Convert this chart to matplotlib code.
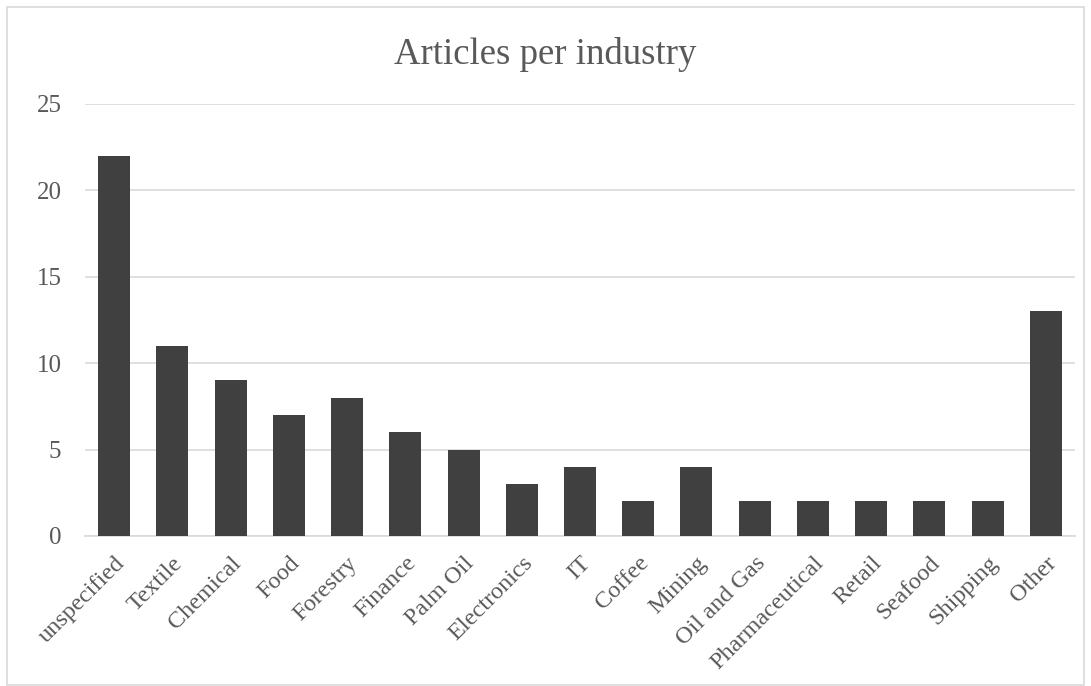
import matplotlib
matplotlib.use("Agg")
from matplotlib import pyplot as plt
from matplotlib.patches import Rectangle
from matplotlib.transforms import ScaledTranslation

industries = ["unspecified", "Textile", "Chemical", "Food", "Forestry", "Finance",
              "Palm Oil", "Electronics", "IT", "Coffee", "Mining", "Oil and Gas",
              "Pharmaceutical", "Retail", "Seafood", "Shipping", "Other"]
articles = [22, 11, 9, 7, 8, 6, 5, 3, 4, 2, 4, 2, 2, 2, 2, 2, 13]
yticks = [0, 5, 10, 15, 20, 25]

plt.rcParams['font.family'] = ['Liberation Serif', 'DejaVu Serif']
text_col = '#595959'

fig = plt.figure(figsize=(10.91, 6.86), dpi=100)
ax = fig.add_axes([85 / 1091, 1 - 536 / 686, 990 / 1091, 432 / 686])

x = range(len(industries))
ax.bar(x, articles, width=0.55, color='#404040', zorder=3)

ax.set_xlim(-0.5, len(industries) - 0.5)
ax.set_ylim(0, 25)
ax.set_yticks(yticks)
ax.yaxis.grid(True, color='#d9d9d9', linewidth=1.2, zorder=0)
ax.set_xticks(list(x))
ax.set_xticklabels(industries, rotation=45, ha='right', rotation_mode='anchor',
                   fontsize=17.5, color=text_col)
# nudge the rotated labels a bit left, like excel does
shift = ScaledTranslation(-6 / 100, 0, fig.dpi_scale_trans)
for lbl in ax.get_xticklabels():
    lbl.set_transform(lbl.get_transform() + shift)
ax.tick_params(axis='y', labelsize=18, labelcolor=text_col, length=0, pad=17)
ax.tick_params(axis='x', length=0, pad=12)
for s in ['top', 'right', 'left']:
    ax.spines[s].set_visible(False)
ax.spines['bottom'].set_color('#d9d9d9')
ax.spines['bottom'].set_linewidth(1.2)

fig.text(0.5, 1 - 55 / 686, "Articles per industry", ha='center', va='center',
         fontsize=26.5, color=text_col)

fig.patches.append(Rectangle((7 / 1091, 0.002), 1 - 14 / 1091, 1 - 8 / 686,
                             transform=fig.transFigure, fill=False,
                             edgecolor='#d9d9d9', linewidth=1.2))

fig.savefig("out.png", dpi=100)
